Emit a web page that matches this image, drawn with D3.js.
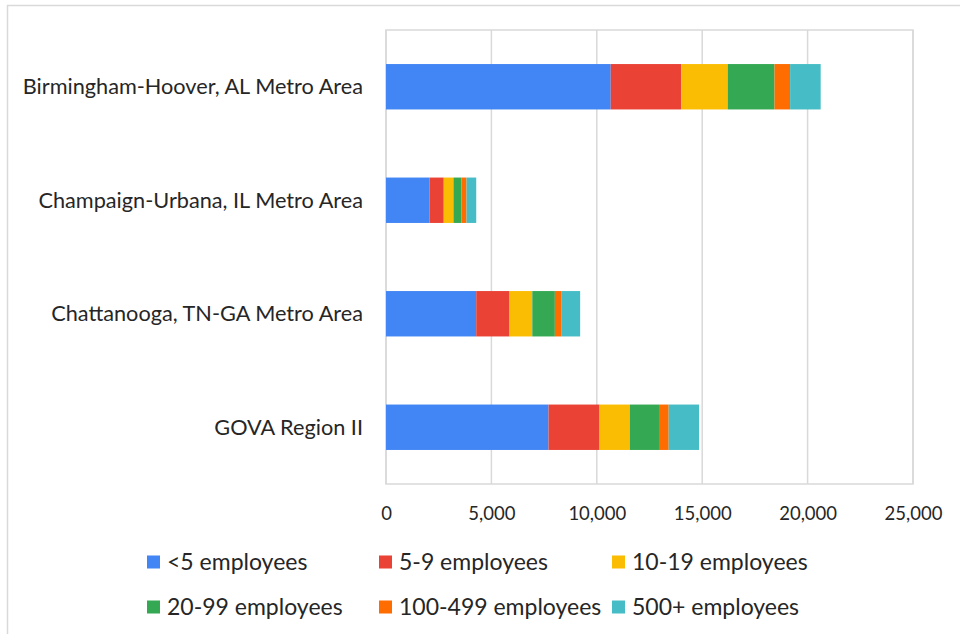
<!DOCTYPE html>
<html>
<head>
<meta charset="utf-8">
<script src="https://cdn.jsdelivr.net/npm/d3@7"></script>
<style>
	body { margin: 0; background: #fff; }
	text { font-family: Lato, "Open Sans", sans-serif; fill: #262626; }
</style>
</head>
<body>
<svg id="chart" width="960" height="634" viewBox="0 0 960 634"></svg>
<script>

// categories (top to bottom)
const areas = [
	"Birmingham-Hoover, AL Metro Area",
	"Champaign-Urbana, IL Metro Area",
	"Chattanooga, TN-GA Metro Area",
	"GOVA Region II"
];

const sizes = ["<5 employees", "5-9 employees", "10-19 employees",
	"20-99 employees", "100-499 employees", "500+ employees"];

// one array per series, same order as areas
const lt5      = [10660, 2060, 4280, 7710];
const s5to9    = [3340, 680, 1580, 2420];
const s10to19  = [2210, 460, 1080, 1440];
const s20to99  = [2220, 380, 1070, 1380];
const s100to499 = [740, 240, 300, 460];
const s500plus = [1450, 460, 900, 1440];

const xTicks = [0, 5000, 10000, 15000, 20000, 25000];

const colors = ["#4285F4", "#EA4335", "#FBBC04", "#34A853", "#FF6D01", "#46BDC6"];

const svg = d3.select("#chart");

// rows for the stack
const table = areas.map((a, i) => {
	const row = {area: a};
	[lt5, s5to9, s10to19, s20to99, s100to499, s500plus].forEach((s, k) => row[sizes[k]] = s[i]);
	return row;
});

const stack = d3.stack().keys(sizes)(table);

const plot = {left: 386, right: 913, top: 30, bottom: 484};

const x = d3.scaleLinear()
	.domain([0, 25000])
	.range([plot.left, plot.right]);

const y = d3.scaleBand()
	.domain(areas)
	.range([plot.top, plot.bottom])
	.paddingInner(0.6)
	.paddingOuter(0.3);

// outer chart frame (only top/left visible)
svg.append("rect")
	.attr("x", 7.5).attr("y", 5.5)
	.attr("width", 1000).attr("height", 700)
	.style("fill", "none")
	.style("stroke", "#d9d9d9")
	.style("stroke-width", 1.5);

// gridlines
svg.append("g")
	.selectAll("line")
	.data(xTicks)
	.enter().append("line")
	.attr("x1", d => x(d)).attr("x2", d => x(d))
	.attr("y1", plot.top).attr("y2", plot.bottom)
	.style("stroke", "#d9d9d9")
	.style("stroke-width", 1.5);

svg.append("rect")
	.attr("x", plot.left).attr("y", plot.top)
	.attr("width", plot.right - plot.left).attr("height", plot.bottom - plot.top)
	.style("fill", "none")
	.style("stroke", "#d9d9d9")
	.style("stroke-width", 1.5);

// bars
svg.append("g")
	.selectAll("g")
	.data(stack)
	.enter().append("g")
	.style("fill", (d, i) => colors[i])
	.selectAll("rect")
	.data(d => d)
	.enter().append("rect")
	.attr("x", d => x(d[0]))
	.attr("width", d => x(d[1]) - x(d[0]))
	.attr("y", d => y(d.data.area))
	.attr("height", y.bandwidth());

// x axis labels
const xAxis = d3.axisBottom(x)
	.tickValues(xTicks)
	.tickFormat(d3.format(","))
	.tickSize(0)
	.tickPadding(0);

const xg = svg.append("g")
	.attr("transform", "translate(0," + 520 + ")")
	.call(xAxis);
xg.select(".domain").remove();
xg.selectAll("text")
	.attr("y", 0)
	.attr("dy", 0)
	.style("font-family", "Lato, sans-serif")
	.style("font-size", "18.5px")
	.style("fill", "#262626");

// category labels
const yAxis = d3.axisLeft(y).tickSize(0).tickPadding(0);
const yg = svg.append("g")
	.attr("transform", "translate(" + 363 + ",0)")
	.call(yAxis);
yg.select(".domain").remove();
yg.selectAll("text")
	.attr("dy", "0.35em")
	.style("font-family", "Lato, sans-serif")
	.style("font-size", "21.7px")
	.style("fill", "#262626");

// legend, 3 columns x 2 rows
const legCols = [147, 379, 612];
const legRows = [562, 607];
const legend = svg.append("g")
	.selectAll("g")
	.data(sizes)
	.enter().append("g")
	.attr("transform", (d, i) => "translate(" + legCols[i % 3] + "," + legRows[Math.floor(i / 3)] + ")");

legend.append("rect")
	.attr("x", 0).attr("y", -6.5)
	.attr("width", 13).attr("height", 13)
	.style("fill", (d, i) => colors[i]);

legend.append("text")
	.attr("x", 20)
	.attr("dy", "0.35em")
	.style("font-size", "23px")
	.text(d => d);

</script>
</body>
</html>
